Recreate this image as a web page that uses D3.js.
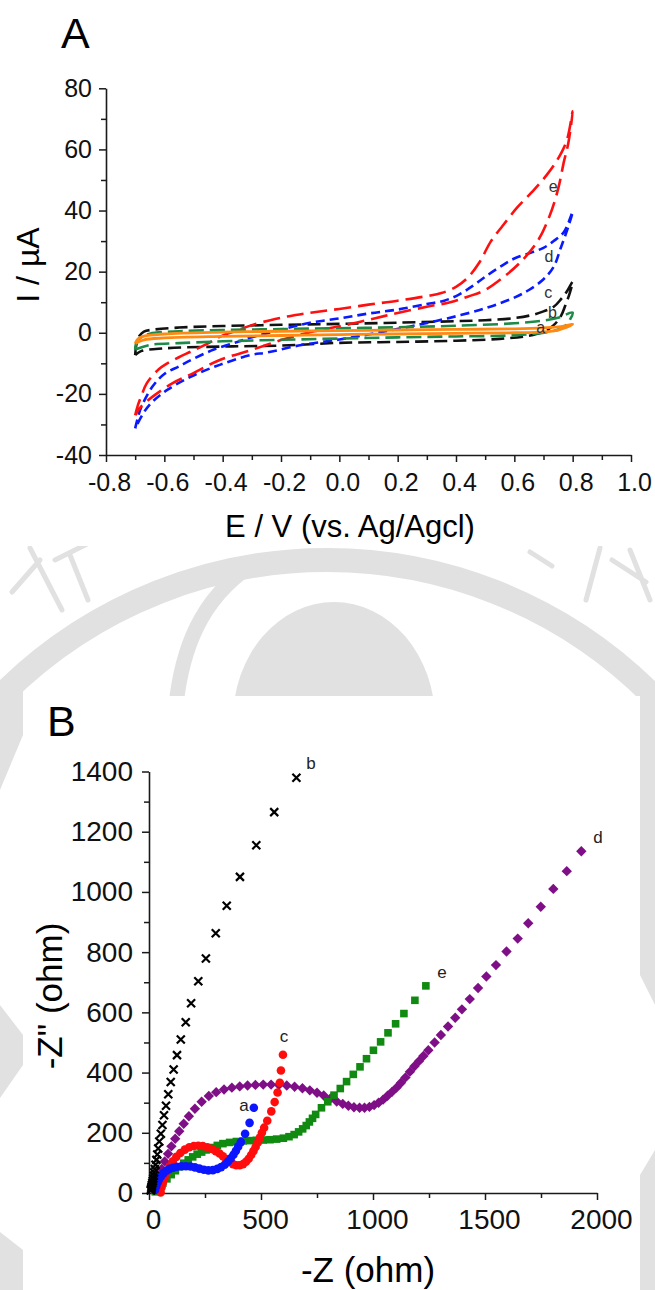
<!DOCTYPE html>
<html>
<head>
<meta charset="utf-8">
<script src="https://cdn.jsdelivr.net/npm/d3@7"></script>
<style>
html, body { margin: 0; padding: 0; background: #fff; }
svg { display: block; font-family: "Liberation Sans", Arial, sans-serif; }
</style>
</head>
<body>
<svg id="fig" width="655" height="1290"></svg>
<script>
// ---------- Panel A: cyclic voltammograms, [E (V), I (µA)], -0.7 V -> 0.8 V -> -0.7 V ----------
const cvA = [[-0.70,-3.5],[-0.69,-2],[-0.67,-1.1],[-0.6,-0.4],[-0.4,0.2],[-0.2,0.5],[0,0.7],[0.2,0.9],[0.4,1.1],[0.6,1.3],[0.7,1.6],[0.76,2],[0.80,2.8],
  [0.78,1.8],[0.75,0.9],[0.7,0.3],[0.6,0],[0.4,-0.2],[0.2,-0.4],[0,-0.6],[-0.2,-0.9],[-0.4,-1.2],[-0.6,-1.7],[-0.67,-2.3],[-0.70,-3.5]];
const cvB = [[-0.70,-5.5],[-0.695,-3],[-0.68,-1.5],[-0.65,-0.3],[-0.55,0.5],[-0.4,0.9],[-0.2,1.2],[0,1.5],[0.2,1.8],[0.4,2.3],[0.6,3.1],[0.7,4],[0.75,4.9],[0.80,6.6],
  [0.79,4.2],[0.78,2.8],[0.76,1.4],[0.72,0.3],[0.6,-0.8],[0.4,-1.2],[0.2,-1.5],[0,-1.9],[-0.2,-2.3],[-0.4,-2.8],[-0.55,-3.4],[-0.65,-4],[-0.70,-5.5]];
const cvC = [[-0.70,-7.3],[-0.695,-3.5],[-0.685,-1],[-0.67,0.4],[-0.64,1],[-0.55,1.7],[-0.4,2.2],[-0.2,2.6],[0,2.9],[0.2,3.3],[0.4,3.8],[0.5,4.1],[0.6,4.8],[0.66,5.8],[0.7,7],[0.735,8.5],[0.76,11],[0.78,13.5],[0.80,16.7],
  [0.79,13],[0.775,9],[0.76,5.5],[0.735,2.5],[0.7,0.3],[0.65,-1],[0.55,-2],[0.4,-2.6],[0.2,-3],[0,-3.3],[-0.2,-4.2],[-0.4,-4.5],[-0.6,-5.1],[-0.68,-6],[-0.70,-7.3]];
const cvD = [[-0.70,-31.3],[-0.69,-27.5],[-0.68,-24.5],[-0.64,-17.5],[-0.6,-13.5],[-0.55,-11],[-0.5,-8.5],[-0.43,-5.5],[-0.35,-3],[-0.3,-1.5],[-0.2,1],[-0.1,3.3],[0,4.7],[0.1,6.3],[0.2,7.6],[0.3,9.4],[0.36,10.5],[0.41,12.5],[0.46,15.5],[0.5,18.3],[0.55,21.5],[0.6,24.3],[0.66,26.3],[0.7,27.8],[0.735,30],[0.77,33],[0.80,39.6],
  [0.785,34.7],[0.76,28],[0.735,21.6],[0.7,17.5],[0.65,14],[0.6,11.5],[0.5,8],[0.37,4.7],[0.24,2],[0.12,-0.2],[0,-2.2],[-0.13,-4],[-0.25,-6.5],[-0.3,-7.2],[-0.41,-10.5],[-0.51,-14.4],[-0.59,-18.7],[-0.64,-22.5],[-0.67,-26],[-0.70,-31.3]];
const cvE = [[-0.70,-27],[-0.69,-23.5],[-0.68,-21],[-0.66,-16.5],[-0.62,-12],[-0.59,-10],[-0.55,-8],[-0.51,-6.2],[-0.45,-3.5],[-0.41,-1.3],[-0.35,0.8],[-0.30,2.5],[-0.22,4.5],[-0.15,5.8],[-0.08,6.8],[0,7.8],[0.1,9.2],[0.2,10.5],[0.3,12],[0.35,13],[0.4,15],[0.44,18],[0.48,23],[0.52,30],[0.56,35],[0.61,41],[0.66,46],[0.71,51.5],[0.75,57],[0.78,63],[0.80,72.5],
  [0.785,62],[0.77,56],[0.75,47],[0.72,38],[0.68,30],[0.62,23],[0.56,18],[0.5,14],[0.44,11.8],[0.38,10],[0.3,8.5],[0.2,6.5],[0.12,4.7],[0.02,2.5],[-0.09,0.4],[-0.2,-2.4],[-0.3,-5.6],[-0.41,-8.9],[-0.5,-13.2],[-0.57,-16.4],[-0.64,-20.9],[-0.68,-24.2],[-0.70,-27]];

const cvXTicks = [-0.8,-0.6,-0.4,-0.2,0.0,0.2,0.4,0.6,0.8,1.0];
const cvXMinor = [-0.7,-0.5,-0.3,-0.1,0.1,0.3,0.5,0.7,0.9];
const cvYTicks = [-40,-20,0,20,40,60,80];
const cvYMinor = [-30,-10,10,30,50,70];
const cvLabels = ["a","b","c","d","e"];
const cvLabelAt = [[0.69,1.7],[0.731,6.6],[0.716,13.1],[0.719,24.9],[0.733,47.8]];

// ---------- Panel B: Nyquist plots, [Z' (ohm), -Z'' (ohm)] ----------
const eisA = [[27,10],[32,22],[38,34],[45,45],[54,56],[65,66],[78,74],[92,80],[108,84],[125,87],[145,89],[165,89],[185,88],[205,85],[225,81],[245,77],[265,75],[285,76],[305,80],[322,86],[338,94],[352,104],[365,115],[377,127],[388,140],[398,154],[410,169],[429,197],[449,233],[468,283]];
const eisB = [[8,8],[9,11],[10,14],[11,18],[12,22],[13,27],[15,33],[17,40],[19,48],[21,57],[23,68],[26,80],[29,94],[33,110],[37,128],[41,148],[46,171],[53,197],[60,226],[67,258],[76,290],[86,328],[97,369],[110,410],[125,458],[142,510],[164,567],[188,630],[220,703],[254,779],[298,863],[347,954],[406,1050],[479,1155],[559,1265],[658,1379]];
const eisC = [[52,2],[56,18],[62,35],[70,52],[80,70],[92,88],[106,105],[122,120],[140,133],[160,144],[180,152],[200,156],[220,157],[240,156],[260,152],[280,146],[298,139],[315,131],[330,122],[345,112],[360,103],[375,96],[390,92],[405,92],[420,96],[433,104],[445,114],[456,126],[466,139],[476,153],[486,168],[495,184],[504,200],[514,217],[528,240],[546,271],[561,302],[574,334],[584,366],[589,407],[598,459]];
const eisD = [[28,10],[35,30],[45,55],[57,80],[70,105],[85,130],[100,155],[117,180],[135,205],[155,230],[178,255],[205,280],[235,303],[267,322],[300,335],[335,344],[370,350],[405,354],[440,357],[475,359],[510,360],[545,360],[580,359],[615,357],[650,353],[685,348],[718,341],[750,333],[780,324],[810,314],[838,304],[865,296],[890,290],[915,285],[940,283],[962,283],[984,286],[1005,292],[1025,300],[1045,310],[1065,323],[1085,336],[1105,350],[1125,366],[1145,384],[1165,403],[1185,421],[1205,438],[1225,455],[1247,474],[1275,500],[1303,525],[1335,553],[1367,582],[1397,610],[1432,644],[1469,681],[1506,719],[1549,757],[1596,802],[1646,845],[1693,896],[1749,951],[1805,1010],[1865,1069],[1930,1135]];
const eisE = [[28,4],[45,18],[62,33],[80,47],[99,61],[118,74],[137,87],[155,99],[175,110],[195,120],[215,129],[235,136],[255,143],[280,151],[305,158],[330,164],[360,168],[390,171],[420,173],[450,174],[480,175],[510,176],[540,177],[570,179],[600,182],[625,187],[648,194],[668,203],[686,213],[702,224],[716,236],[730,248],[744,261],[770,283],[798,303],[826,325],[854,347],[882,370],[912,394],[942,419],[971,446],[1002,474],[1034,502],[1067,532],[1101,562],[1138,596],[1187,640],[1236,688]];

const eisXTicks = [0,500,1000,1500,2000];
const eisXMinor = [250,750,1250,1750];
const eisYTicks = [0,200,400,600,800,1000,1200,1400];
const eisYMinor = [100,300,500,700,900,1100,1300];
const eisLabels = ["a","b","c","d","e"];
const eisLabelAt = [[424,292],[723,1428],[603,521],[2004,1182],[1308,734]];

const svg = d3.select("#fig");
const ink = "#1a1a1a";
const haze = "#e1e1e1";

// ---------- faint emblem in the page background ----------
const wm = svg.append("g").attr("fill", "none").attr("stroke", haze);
wm.append("circle").attr("cx", 327).attr("cy", 1019).attr("r", 459).attr("stroke-width", 24);
wm.append("path").attr("d", "M176,705 C182,650 200,600 250,566").attr("stroke-width", 15);
wm.append("ellipse").attr("cx", 334).attr("cy", 720).attr("rx", 101).attr("ry", 118)
  .attr("fill", haze).attr("stroke", "none");
// script-like strokes along the rim
wm.append("path").attr("d", "M12,592 L40,560 M30,548 L62,610 M55,560 L95,540 M70,555 L88,600")
  .attr("stroke-width", 5).attr("stroke-linecap", "round");
wm.append("path").attr("d", "M530,552 L552,566 M600,548 L586,600 M612,560 L646,582 M630,550 L650,600")
  .attr("stroke-width", 5).attr("stroke-linecap", "round");
// rim continuing down both page margins
const wmFill = svg.append("g").attr("fill", haze);
wmFill.append("path").attr("d", "M0,690 L23,690 L23,735 L0,790 Z");
wmFill.append("path").attr("d", "M0,1005 L23,1035 L23,1065 L0,1098 Z");
wmFill.append("path").attr("d", "M0,1232 L23,1250 L23,1290 L0,1290 Z");
wmFill.append("path").attr("d", "M640,690 L655,690 L655,1005 L640,975 Z");
wmFill.append("path").attr("d", "M640,1175 L655,1150 L655,1290 L640,1290 Z");

// opaque panel backgrounds
svg.append("rect").attr("x", 0).attr("y", 0).attr("width", 655).attr("height", 546).attr("fill", "#fff");
svg.append("rect").attr("x", 23).attr("y", 696).attr("width", 617).attr("height", 594).attr("fill", "#fff");

function dashFmt(fmt) { return d => fmt(d).replace("\u2212", "-"); }

function styleAxis(g, size) {
  g.select(".domain").attr("stroke", ink).attr("stroke-width", 1.6);
  g.selectAll(".tick line").attr("stroke", ink).attr("stroke-width", 1.5);
  g.selectAll(".tick text").attr("fill", "#111").attr("font-size", size)
    .attr("font-family", "Liberation Sans, Arial, sans-serif");
}

// ================= Panel A =================
const xA = d3.scaleLinear().domain([-0.8, 1.0]).range([106, 631]);
const yA = d3.scaleLinear().domain([-40, 80]).range([455, 88.3]);

const gA = svg.append("g");
gA.append("g").attr("transform", `translate(0,${yA(-40)})`)
  .call(d3.axisBottom(xA).tickValues(cvXMinor).tickSize(5).tickSizeOuter(0).tickFormat(""))
  .call(g => { g.select(".domain").remove(); g.selectAll(".tick line").attr("stroke", ink).attr("stroke-width", 1.5); });
gA.append("g").attr("transform", `translate(${xA(-0.8)},0)`)
  .call(d3.axisLeft(yA).tickValues(cvYMinor).tickSize(5).tickSizeOuter(0).tickFormat(""))
  .call(g => { g.select(".domain").remove(); g.selectAll(".tick line").attr("stroke", ink).attr("stroke-width", 1.5); });
gA.append("g").attr("transform", `translate(0,${yA(-40)})`)
  .call(d3.axisBottom(xA).tickValues(cvXTicks).tickSize(7).tickPadding(11).tickSizeOuter(0)
    .tickFormat(dashFmt(d3.format(".1f"))))
  .call(g => styleAxis(g, 25))
  .call(g => g.selectAll(".tick text").attr("dx", 3));
gA.append("g").attr("transform", `translate(${xA(-0.8)},0)`)
  .call(d3.axisLeft(yA).tickValues(cvYTicks).tickSize(7).tickPadding(7).tickSizeOuter(0)
    .tickFormat(dashFmt(d3.format("d"))))
  .call(g => styleAxis(g, 25));

const lineA = d3.line().x(d => xA(d[0])).y(d => yA(d[1])).curve(d3.curveCatmullRom.alpha(0.5));
const cvSeries = [
  { data: cvC, color: "#111111", dash: "13,6", w: 2.6 },
  { data: cvD, color: "#0a1aff", dash: "9,5", w: 2.6 },
  { data: cvE, color: "#ff1010", dash: "17,7", w: 2.6 },
  { data: cvB, color: "#1d8a48", dash: "15,6", w: 2.6 },
  { data: cvA, color: "#ff8a12", dash: null, w: 2.8 }
];
cvSeries.forEach(s => {
  gA.append("path").datum(s.data).attr("d", lineA).attr("fill", "none")
    .attr("stroke", s.color).attr("stroke-width", s.w)
    .attr("stroke-dasharray", s.dash).attr("stroke-linejoin", "round");
});
cvLabels.forEach((t, i) => {
  gA.append("text").attr("x", xA(cvLabelAt[i][0])).attr("y", yA(cvLabelAt[i][1]))
    .attr("dy", "0.35em").attr("text-anchor", "middle").attr("font-size", 16).attr("fill", "#333").text(t);
});

gA.append("text").attr("x", 61).attr("y", 48).attr("font-size", 43).attr("fill", "#000").text("A");
gA.append("text").attr("x", 350).attr("y", 537).attr("text-anchor", "middle")
  .attr("font-size", 31).attr("fill", "#000").text("E / V (vs. Ag/Agcl)");
gA.append("text").attr("transform", "translate(39,265) rotate(-90)").attr("text-anchor", "middle")
  .attr("font-size", 32).attr("fill", "#000").text("I / \u00b5A");

// ================= Panel B =================
const xB = d3.scaleLinear().domain([0, 2000]).range([149, 597]);
const yB = d3.scaleLinear().domain([0, 1400]).range([1193, 771.5]);

const gB = svg.append("g");
gB.append("g").attr("transform", `translate(0,${yB(0)})`)
  .call(d3.axisBottom(xB).tickValues(eisXMinor).tickSize(5).tickSizeOuter(0).tickFormat(""))
  .call(g => { g.select(".domain").remove(); g.selectAll(".tick line").attr("stroke", ink).attr("stroke-width", 1.5); });
gB.append("g").attr("transform", `translate(${xB(0)},0)`)
  .call(d3.axisLeft(yB).tickValues(eisYMinor).tickSize(5).tickSizeOuter(0).tickFormat(""))
  .call(g => { g.select(".domain").remove(); g.selectAll(".tick line").attr("stroke", ink).attr("stroke-width", 1.5); });
gB.append("g").attr("transform", `translate(0,${yB(0)})`)
  .call(d3.axisBottom(xB).tickValues(eisXTicks).tickSize(7).tickPadding(9).tickSizeOuter(0).tickFormat(d3.format("d")))
  .call(g => styleAxis(g, 28))
  .call(g => g.selectAll(".tick text").attr("dx", 4));
gB.append("g").attr("transform", `translate(${xB(0)},0)`)
  .call(d3.axisLeft(yB).tickValues(eisYTicks).tickSize(7).tickPadding(9).tickSizeOuter(0).tickFormat(d3.format("d")))
  .call(g => styleAxis(g, 28));

// markers, drawn back to front
const gPts = gB.append("g");
// d: purple diamonds
gPts.append("g").selectAll("path").data(eisD).join("path")
  .attr("d", d => { const x = xB(d[0]), y = yB(d[1]); return `M${x},${y - 5.2}L${x + 5.2},${y}L${x},${y + 5.2}L${x - 5.2},${y}Z`; })
  .attr("fill", "#7f0f86");
// e: green squares
gPts.append("g").selectAll("rect").data(eisE).join("rect")
  .attr("x", d => xB(d[0]) - 3.8).attr("y", d => yB(d[1]) - 3.8)
  .attr("width", 7.6).attr("height", 7.6).attr("fill", "#118a11");
// c: red circles
gPts.append("g").selectAll("circle").data(eisC).join("circle")
  .attr("cx", d => xB(d[0])).attr("cy", d => yB(d[1])).attr("r", 4.3).attr("fill", "#ff0d0d");
// a: blue circles
gPts.append("g").selectAll("circle").data(eisA).join("circle")
  .attr("cx", d => xB(d[0])).attr("cy", d => yB(d[1])).attr("r", 4.3).attr("fill", "#0b16ff");
// b: black crosses
gPts.append("g").selectAll("path").data(eisB).join("path")
  .attr("d", d => { const x = xB(d[0]), y = yB(d[1]), r = 4; return `M${x - r},${y - r}L${x + r},${y + r}M${x - r},${y + r}L${x + r},${y - r}`; })
  .attr("stroke", "#000").attr("stroke-width", 2.2).attr("fill", "none");

eisLabels.forEach((t, i) => {
  gB.append("text").attr("x", xB(eisLabelAt[i][0])).attr("y", yB(eisLabelAt[i][1]))
    .attr("dy", "0.35em").attr("text-anchor", "middle").attr("font-size", 17).attr("fill", "#222").text(t);
});

gB.append("text").attr("x", 47).attr("y", 736).attr("font-size", 43).attr("fill", "#000").text("B");
gB.append("text").attr("x", 368).attr("y", 1282).attr("text-anchor", "middle")
  .attr("font-size", 35).attr("fill", "#000").text("-Z (ohm)");
gB.append("text").attr("transform", "translate(62,996) rotate(-90)").attr("text-anchor", "middle")
  .attr("font-size", 35).attr("fill", "#000").text("-Z\" (ohm)");
</script>
</body>
</html>
